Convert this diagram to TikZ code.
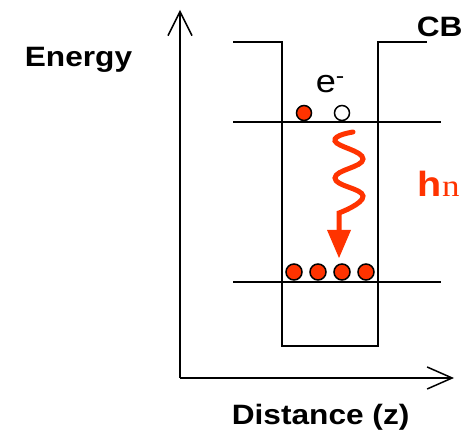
\documentclass[tikz,border=0pt]{standalone}
\usepackage{fontspec}
\setmainfont{Liberation Sans}
\newfontfamily\nufont{Liberation Serif}
\usetikzlibrary{arrows.meta}
\definecolor{photon}{HTML}{FF3300}
\tikzset{
    lbl/.style={inner sep=0pt, xscale=1.13, font=\bfseries\fontsize{28}{30}\selectfont},
    electron/.style={fill=photon, draw=black, line width=1.5pt},
    hole/.style={fill=white, draw=black, line width=1.5pt}
}

\begin{document}
\begin{tikzpicture}[x=1pt, y=-1pt, line width=1.5pt]
    \useasboundingbox (0,0) rectangle (464,438);

    % Axes
    \draw[-{Straight Barb[length=24pt, width=24pt]}] (180,378) -- (180,10);
    \draw[-{Straight Barb[length=25pt, width=22pt]}] (180,378) -- (454,378);
    \node[lbl, anchor=base west] (energy) at (24,67) {Energy};
    \node[lbl, anchor=base west] (dist) at (231,425) {Distance (z)};

    % Quantum well
    \draw (233,42) -- (282,42) -- (282,346) -- (378,346) -- (378,42) -- (427,42);
    \node[lbl, anchor=base west] (cb) at (416,37) {CB};

    % Energy levels
    \draw (233,122) -- (441,122);
    \draw (233,282) -- (441,282);

    % Upper level: electron and empty state
    \filldraw[electron] (304,113) circle (7.5);
    \filldraw[hole] (342,113) circle (7.5);
    \node[inner sep=0pt, anchor=base west, xscale=1.13,
          font=\fontsize{32}{34}\selectfont] (elec) at (315,93) {e\textsuperscript{-}};

    % Lower level: electrons
    \foreach \x in {294,318,342,366}
        \filldraw[electron] (\x,272) circle (8);

    % Photon
    \draw[photon, line width=5pt, line cap=round]
        plot[smooth, tension=0.8] coordinates {(353,132) (335,141) (363,159) (335,178) (363,196) (339,213)}
        -- (339,232);
    \fill[photon] (327,230) -- (351,230) -- (339,258) -- cycle;
    \node[inner sep=0pt, anchor=base west, xscale=1.13, text=photon] (hnu) at (417,197)
        {\fontsize{35}{37}\selectfont\bfseries h\nufont\mdseries\fontsize{31}{33}\selectfont n};
\end{tikzpicture}
\end{document}
